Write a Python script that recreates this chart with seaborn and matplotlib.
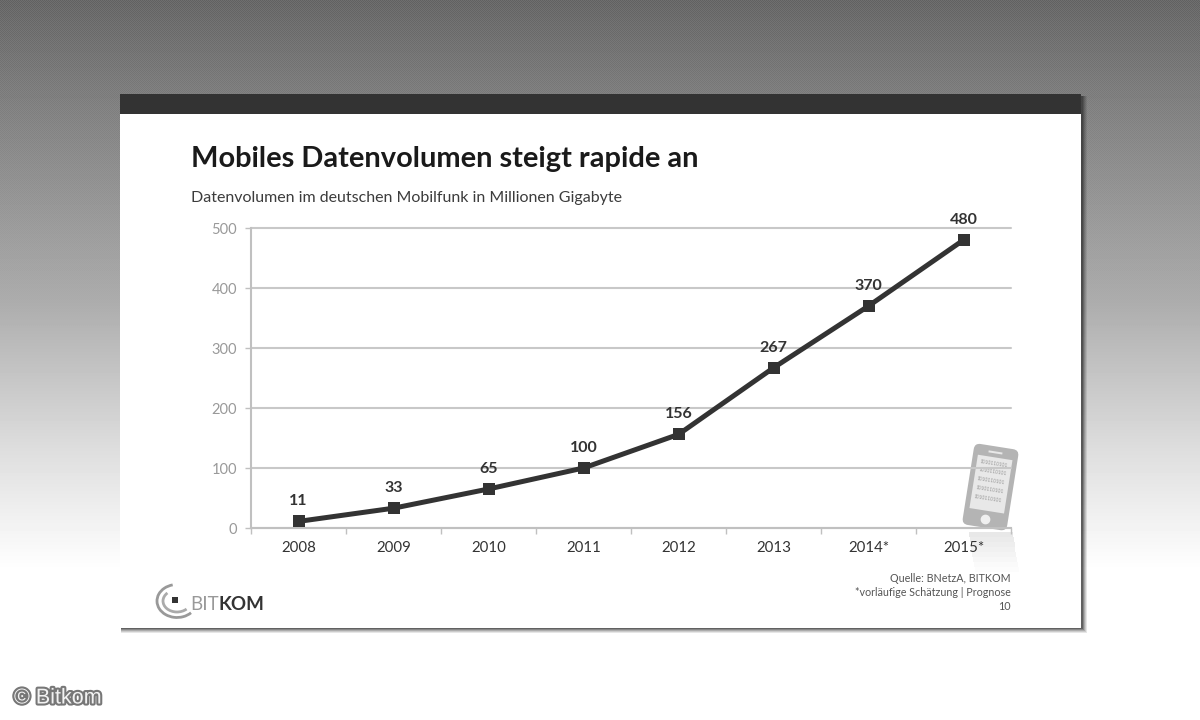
import numpy as np
import pandas as pd
import matplotlib
matplotlib.use('Agg')
import matplotlib.pyplot as plt
from matplotlib.patches import Rectangle, FancyBboxPatch, Arc
from matplotlib.transforms import Affine2D
import matplotlib.patheffects as pe
import seaborn as sns

years = ['2008', '2009', '2010', '2011', '2012', '2013', '2014*', '2015*']
volumes = [11, 33, 65, 100, 156, 267, 370, 480]
y_ticks = [0, 100, 200, 300, 400, 500]

sns.set_theme(style='white')
plt.rcParams['font.family'] = ['Lato', 'Open Sans', 'DejaVu Sans']

W, H = 1200, 720
fig = plt.figure(figsize=(12, 7.2), dpi=100)

# hintergrund + folie in pixelkoordinaten
bg = fig.add_axes([0, 0, 1, 1], zorder=0)
bg.set_xlim(0, W)
bg.set_ylim(H, 0)
bg.axis('off')
grad = np.interp(np.arange(H), [0, 100, 300, 450, 570, 720], [104, 128, 172, 222, 255, 255])
grad = np.tile(grad[:, None], (1, W))
# feines raster oben, faellt nach unten weg
yy, xx = np.mgrid[0:H, 0:W]
grad = grad + ((xx + yy) % 2 * 2 - 1) * np.clip(1 - yy / 330, 0, 1) * 7
bg.imshow(grad, cmap='gray', vmin=0, vmax=255, extent=[0, W, H, 0], aspect='auto',
          interpolation='nearest')
# weicher schatten
for k, a in zip([5, 4, 3, 2, 1], [0.12, 0.15, 0.2, 0.3, 0.45]):
    bg.add_patch(Rectangle((121, 96), 961 + k, 532 + k, fc='#333333', ec='none', alpha=a))
bg.add_patch(Rectangle((120, 94), 961, 534, fc='white', ec='none'))
bg.add_patch(Rectangle((120, 94), 961, 20, fc='#333333', ec='none'))

bg.text(191, 159, 'Mobiles Datenvolumen steigt rapide an', fontsize=20.9, fontweight='bold',
        color='#1a1a1a', va='center', ha='left')
bg.text(191, 198, 'Datenvolumen im deutschen Mobilfunk in Millionen Gigabyte', fontsize=11.5,
        color='#3c3c3c', va='center', ha='left')
for y, s in zip([579, 592, 606], ['Quelle: BNetzA, BITKOM', '*vorläufige Schätzung | Prognose', '10']):
    bg.text(1011, y, s, fontsize=7.75, color='#555555', va='center', ha='right')
bg.text(14, 698, '© Bitkom', family='Liberation Sans', fontsize=15.5, color='#f2f2f2', va='center', ha='left',
        path_effects=[pe.withStroke(linewidth=3, foreground='#777777')])

# logo
bg.add_patch(Arc((177, 601), 40, 33, theta1=40, theta2=255, color='#999999', lw=2))
bg.add_patch(Arc((177, 601), 28, 22, theta1=40, theta2=220, color='#aaaaaa', lw=2))
bg.add_patch(Rectangle((172, 597), 5.5, 5.5, fc='#333333', ec='none'))
bg.text(190, 604, 'BIT', fontsize=13.5, color='#999999', va='center', ha='left')
bg.text(219, 604, 'KOM', fontsize=13.5, color='#333333', fontweight='bold', va='center', ha='left')

# handy-symbol
rot = Affine2D().rotate_deg_around(990, 487, 9) + bg.transData
bg.add_patch(FancyBboxPatch((968, 446), 45, 82, boxstyle='round,pad=0,rounding_size=6',
                            fc='#b4b4b4', ec='none', transform=rot, zorder=3))
bg.add_patch(Rectangle((973, 457), 35, 54, fc='#e8e8e8', ec='none', transform=rot, zorder=3))
bg.add_patch(Rectangle((983, 451), 14, 2, fc='#e8e8e8', ec='none', transform=rot, zorder=3))
bg.plot([990], [519], 'o', ms=6, color='#efefef', transform=rot, zorder=4)
for y in [463, 472, 481, 490, 499]:
    bg.text(990, y, '1010110101', fontsize=3.5, color='#999999', ha='center', va='center',
            rotation=-9, rotation_mode='anchor', transform=rot, zorder=4)
# spiegelung unten, wird nach unten blasser
for y0, a in zip(range(532, 572, 5), [0.3, 0.26, 0.22, 0.18, 0.14, 0.1, 0.06, 0.03]):
    bg.add_patch(Rectangle((969 + (y0 - 532) * 0.16, y0), 44, 5, fc='#b4b4b4', ec='none', alpha=a, zorder=1))

# diagramm
df = pd.DataFrame({'year': years, 'volume': volumes})
ax = fig.add_axes([251 / W, 1 - 528 / H, 760 / W, 300 / H], zorder=1)
ax.patch.set_alpha(0)
sns.lineplot(data=df, x='year', y='volume', ax=ax, color='#333333', lw=3.6, marker='s',
             markersize=9, markeredgewidth=0, sort=False, zorder=5, clip_on=False)
ax.set_xlim(-0.5, 7.5)
ax.set_ylim(0, 500)
ax.set_yticks(y_ticks)
ax.set_xlabel('')
ax.set_ylabel('')
ax.grid(axis='y', color='#c8c8c8', lw=1.5)
for l in ax.get_ygridlines():
    l.set_clip_on(False)
ax.set_axisbelow(True)
for s in ['top', 'right']:
    ax.spines[s].set_visible(False)
for s in ['left', 'bottom']:
    ax.spines[s].set_color('#c0c0c0')
    ax.spines[s].set_linewidth(1.5)
ax.set_xticks(np.arange(-0.5, 8, 1), minor=True)
ax.tick_params(axis='x', which='major', length=0, pad=9, labelsize=10.8, labelcolor='#333333')
ax.tick_params(axis='x', which='minor', length=4, width=1, color='#c0c0c0', bottom=True)
ax.tick_params(axis='y', length=4, width=1, color='#c0c0c0', left=True, pad=6, labelsize=10.5,
               labelcolor='#999999')
for i, v in enumerate(volumes):
    ax.annotate(str(v), (i, v), xytext=(0, 14.5), textcoords='offset points', ha='center',
                va='center', fontsize=11.5, fontweight='bold', color='#333333')

fig.savefig('out.png', dpi=100)
